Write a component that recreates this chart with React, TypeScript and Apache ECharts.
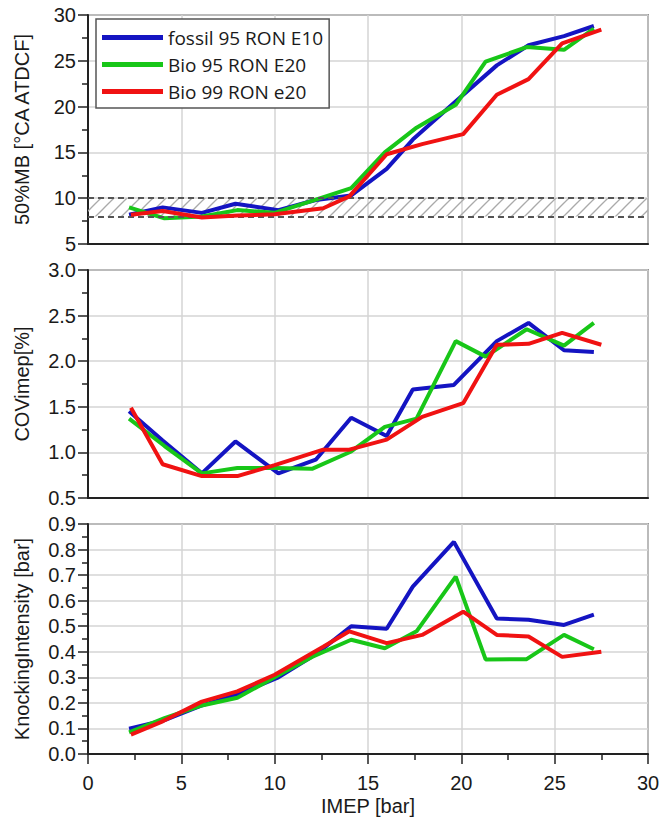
import React, { useEffect, useRef } from "react";
import * as echarts from "echarts";

const seriesNames = ["fossil 95 RON E10", "Bio 95 RON E20", "Bio 99 RON e20"];
const seriesColors = ["#1414c2", "#18c618", "#f01212"];

// IMEP [bar] operating points per fuel
const imepFossil = [2.2, 4.0, 6.1, 7.9, 10.2, 12.2, 14.1, 16.0, 17.4, 19.6, 21.9, 23.6, 25.5, 27.1];
const imepBio95 = [2.2, 4.1, 6.1, 8.0, 10.0, 12.0, 14.1, 15.9, 17.6, 19.7, 21.3, 23.5, 25.5, 27.1];
const imepBio99 = [2.3, 4.0, 6.1, 8.0, 10.0, 12.6, 14.0, 16.0, 17.9, 20.1, 21.9, 23.6, 25.4, 27.5];

// 50%MB [°CA ATDCF]
const mb50Fossil = [8.2, 9.0, 8.4, 9.4, 8.7, 9.8, 10.3, 13.2, 16.4, 20.4, 24.5, 26.7, 27.7, 28.8];
const mb50Bio95 = [9.0, 7.8, 8.0, 8.7, 8.4, 9.7, 11.1, 15.0, 17.7, 20.2, 24.9, 26.5, 26.2, 28.5];
const mb50Bio99 = [8.2, 8.6, 7.9, 8.1, 8.25, 8.9, 10.2, 14.8, 15.9, 17.0, 21.3, 23.0, 26.9, 28.4];

// COVimep [%]
const covFossil = [1.45, 1.13, 0.77, 1.12, 0.77, 0.92, 1.38, 1.18, 1.69, 1.74, 2.22, 2.42, 2.12, 2.1];
const covBio95 = [1.37, 1.07, 0.77, 0.83, 0.83, 0.82, 1.01, 1.28, 1.37, 2.22, 2.05, 2.35, 2.17, 2.42];
const covBio99 = [1.49, 0.87, 0.74, 0.74, 0.86, 1.03, 1.03, 1.14, 1.39, 1.54, 2.18, 2.19, 2.31, 2.18];

// KnockingIntensity [bar]
const kiFossil = [0.099, 0.13, 0.19, 0.23, 0.3, 0.39, 0.5, 0.49, 0.655, 0.83, 0.53, 0.525, 0.505, 0.545];
const kiBio95 = [0.085, 0.14, 0.19, 0.22, 0.3, 0.38, 0.447, 0.414, 0.48, 0.694, 0.37, 0.371, 0.466, 0.41];
const kiBio99 = [0.076, 0.128, 0.205, 0.245, 0.31, 0.42, 0.48, 0.434, 0.466, 0.557, 0.466, 0.46, 0.38, 0.4];

// Target band for 50%MB
const mb50Band = [8, 10];

const panelNames = ["50%MB [°CA ATDCF]", "COVimep[%]", "KnockingIntensity [bar]"];
const panelMin = [5, 0.5, 0];
const panelMax = [30, 3.0, 0.9];
const panelInterval = [5, 0.5, 0.1];
const panelDecimals = [0, 1, 1];
const xMin = 0;
const xMax = 30;
const xInterval = 5;
const xName = "IMEP [bar]";

const FONT = "'Liberation Sans', Arial, sans-serif";

export default function App() {
  const ref = useRef<HTMLDivElement>(null);
  useEffect(() => {
    if (!ref.current) return;
    const chart = echarts.init(ref.current, null, { renderer: "svg" });
    const imeps = [imepFossil, imepBio95, imepBio99];
    const panels = [
      [mb50Fossil, mb50Bio95, mb50Bio99],
      [covFossil, covBio95, covBio99],
      [kiFossil, kiBio95, kiBio99],
    ];
    const grids = [
      { left: 88, right: 16, top: 15, height: 229 },
      { left: 88, right: 16, top: 270, height: 228 },
      { left: 88, right: 16, top: 524, height: 230 },
    ].map((g) => ({ ...g, show: true, borderColor: "#444", borderWidth: 1.5, backgroundColor: "transparent" }));

    const axisLineStyle = { color: "#222", width: 2 };
    const tickStyle = { color: "#222", width: 1.5 };
    const splitStyle = { color: "#d4d4d4", width: 1.5 };

    const xAxes = [0, 1, 2].map((i) => ({
      type: "value",
      gridIndex: i,
      min: xMin,
      max: xMax,
      interval: xInterval,
      axisLine: { show: true, onZero: false, lineStyle: axisLineStyle },
      axisTick: { show: i === 2, length: 10, lineStyle: tickStyle },
      minorTick: { show: i === 2, splitNumber: 2, length: 6, lineStyle: tickStyle },
      axisLabel: { show: i === 2, fontSize: 20, color: "#1a1a1a", margin: 19, fontFamily: FONT },
      splitLine: { show: true, lineStyle: splitStyle },
      name: i === 2 ? xName : "",
      nameLocation: "middle",
      nameGap: 42,
      nameTextStyle: { fontSize: 20, color: "#1a1a1a", fontFamily: FONT },
    }));

    const yAxes = [0, 1, 2].map((i) => ({
      type: "value",
      gridIndex: i,
      min: panelMin[i],
      max: panelMax[i],
      interval: panelInterval[i],
      axisLine: { show: true, onZero: false, lineStyle: axisLineStyle },
      axisTick: { show: true, length: 10, lineStyle: tickStyle },
      minorTick: { show: true, splitNumber: 2, length: 6, lineStyle: tickStyle },
      axisLabel: {
        fontSize: 20,
        color: "#1a1a1a",
        margin: 12,
        fontFamily: FONT,
        formatter: (v: number) => v.toFixed(panelDecimals[i]),
      },
      splitLine: { show: true, lineStyle: splitStyle },
      name: panelNames[i],
      nameLocation: "middle",
      nameGap: 56,
      nameTextStyle: { fontSize: 20, color: "#1a1a1a", fontFamily: FONT },
    }));

    const hatchSvg =
      '<svg xmlns="http://www.w3.org/2000/svg" width="13" height="13">' +
      '<line x1="0" y1="13" x2="13" y2="0" stroke="#aaaaaa" stroke-width="1.3"/>' +
      '<line x1="-3" y1="3" x2="3" y2="-3" stroke="#aaaaaa" stroke-width="1.3"/>' +
      '<line x1="10" y1="16" x2="16" y2="10" stroke="#aaaaaa" stroke-width="1.3"/>' +
      "</svg>";
    const hatchPattern = {
      image: "data:image/svg+xml;charset=utf-8," + encodeURIComponent(hatchSvg),
      repeat: "repeat",
      imageWidth: 13,
      imageHeight: 13,
    };

    const series: any[] = [
      {
        type: "line",
        name: "band",
        xAxisIndex: 0,
        yAxisIndex: 0,
        data: [],
        z: 1,
        silent: true,
        markArea: {
          silent: true,
          itemStyle: { color: hatchPattern as any },
          data: [[{ yAxis: mb50Band[0] }, { yAxis: mb50Band[1] }]],
        },
        markLine: {
          silent: true,
          symbol: ["none", "none"],
          label: { show: false },
          lineStyle: { type: [6, 4], color: "#555", width: 2 },
          data: [{ yAxis: mb50Band[0] }, { yAxis: mb50Band[1] }],
        },
      },
    ];
    panels.forEach((panel, i) => {
      panel.forEach((vals, j) => {
        series.push({
          type: "line",
          name: seriesNames[j],
          xAxisIndex: i,
          yAxisIndex: i,
          data: vals.map((v, k) => [imeps[j][k], v]),
          symbol: "none",
          color: seriesColors[j],
          lineStyle: { width: 4, color: seriesColors[j] },
          itemStyle: { color: seriesColors[j] },
          z: 3 + j,
        });
      });
    });

    chart.setOption({
      animation: false,
      backgroundColor: "#fff",
      grid: grids,
      xAxis: xAxes,
      yAxis: yAxes,
      legend: {
        show: true,
        orient: "vertical",
        left: 96,
        top: 19,
        data: seriesNames,
        icon: "rect",
        itemWidth: 61,
        itemHeight: 5,
        itemGap: 8,
        padding: [9, 6, 7, 6],
        borderColor: "#555",
        borderWidth: 1.5,
        backgroundColor: "#fff",
        selectedMode: false,
        textStyle: { fontFamily: "'Open Sans', sans-serif", fontSize: 19, color: "#1a1a1a" },
      },
      series,
    });
    return () => chart.dispose();
  }, []);
  return (
    <div
      ref={ref}
      style={{ position: "absolute", left: 0, top: 0, width: 664, height: 818, background: "#fff" }}
    />
  );
}
